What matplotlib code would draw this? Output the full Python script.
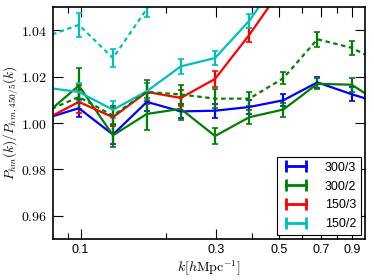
import matplotlib
matplotlib.use('Agg')
import matplotlib.pyplot as plt
from matplotlib.lines import Line2D
from matplotlib.ticker import FixedLocator, NullFormatter, FuncFormatter

plt.rcParams['mathtext.fontset'] = 'cm'
plt.rcParams['font.family'] = 'Liberation Sans'

# k bins
k = [0.0748, 0.0986, 0.130, 0.171, 0.225, 0.297, 0.392, 0.516, 0.680, 0.898, 1.183]

# ratios
r_300_3 = [1.0018, 1.0064, 0.9950, 1.0091, 1.0050, 1.0053, 1.0069, 1.0098, 1.0175, 1.0124, 1.0079]
e_300_3 = [0.004, 0.004, 0.004, 0.004, 0.003, 0.003, 0.003, 0.0025, 0.0025, 0.003, 0.003]
r_300_2 = [1.0035, 1.0161, 0.9947, 1.0039, 1.0061, 0.9944, 1.0025, 1.0058, 1.0169, 1.0165, 1.0070]
e_300_2 = [0.007, 0.0075, 0.005, 0.007, 0.005, 0.0036, 0.003, 0.003, 0.0023, 0.003, 0.003]
r_300_2b = [1.0048, 1.0112, 1.0032, 1.0134, 1.0123, 1.0105, 1.0105, 1.0193, 1.0361, 1.0324, 1.0250]
e_300_2b = [0.005, 0.005, 0.004, 0.005, 0.004, 0.004, 0.003, 0.0025, 0.0033, 0.003, 0.003]
r_150_3 = [1.0014, 1.0091, 1.0025, 1.0134, 1.0108, 1.0190, 1.0380, 1.0590, 1.080, 1.100, 1.120]
e_150_3 = [0.005, 0.005, 0.004, 0.004, 0.0034, 0.0034, 0.003, 0.003, 0.003, 0.003, 0.003]
r_150_2 = [1.0153, 1.0134, 1.0057, 1.0137, 1.0244, 1.0280, 1.0441, 1.0650, 1.085, 1.100, 1.120]
e_150_2 = [0.004, 0.004, 0.0036, 0.0035, 0.0033, 0.003, 0.003, 0.003, 0.003, 0.003, 0.003]
r_150_2b = [1.0370, 1.0423, 1.0280, 1.0492, 1.0700, 1.090, 1.110, 1.130, 1.150, 1.170, 1.190]
e_150_2b = [0.0055, 0.0053, 0.0038, 0.0036, 0.0035, 0.003, 0.003, 0.003, 0.003, 0.003, 0.003]

labels = ['300/3', '300/2', '150/3', '150/2']
colors = ['b', 'g', 'r', 'c']

fig = plt.figure(figsize=(3.74, 2.8), dpi=100)
ax = fig.add_axes([0.1417, 0.1464, 0.976 - 0.1417, 0.975 - 0.1464])

kw = dict(lw=1.6, elinewidth=1.6, capsize=2.5, capthick=1.2)
ax.errorbar(k, r_300_3, yerr=e_300_3, color='b', **kw)
ax.errorbar(k, r_300_2, yerr=e_300_2, color='g', **kw)
ax.errorbar(k, r_150_3, yerr=e_150_3, color='r', **kw)
ax.errorbar(k, r_150_2, yerr=e_150_2, color='c', **kw)
l1 = ax.errorbar(k, r_300_2b, yerr=e_300_2b, color='g', ls='--', **kw)
l2 = ax.errorbar(k, r_150_2b, yerr=e_150_2b, color='c', ls='--', **kw)
for l in (l1, l2):
    l[0].set_dashes((2.0, 1.6))

ax.set_xscale('log')
ax.set_xlim(0.08, 1.0)
ax.set_ylim(0.95, 1.05)

ax.xaxis.set_major_locator(FixedLocator([0.1, 0.3, 0.5, 0.7, 0.9]))
ax.xaxis.set_minor_locator(FixedLocator([0.09, 0.2, 0.4, 0.6, 0.8]))
ax.xaxis.set_major_formatter(FuncFormatter(lambda v, p: '%g' % v))
ax.xaxis.set_minor_formatter(NullFormatter())
ax.yaxis.set_major_locator(FixedLocator([0.96, 0.98, 1.00, 1.02, 1.04]))
ax.yaxis.set_major_formatter(FuncFormatter(lambda v, p: '$%.2f$' % v))

ax.tick_params(which='both', direction='in', top=True, right=True, labelsize=9)
ax.tick_params(which='major', length=7, width=0.8)
ax.tick_params(which='minor', length=4, width=0.8)
ax.tick_params(axis='y', labelsize=10, pad=4)
for s in ax.spines.values():
    s.set_linewidth(1.2)

ax.set_xlabel(r'$k[h\mathrm{Mpc}^{-1}]$', fontsize=10, labelpad=2)
ax.set_ylabel(r'$P_{hm}(k)/P_{hm,450/5}(k)$', fontsize=9.5, labelpad=0)

handles = [Line2D([], [], color=c, lw=2, marker='|', markersize=9, mew=2) for c in colors]
leg = ax.legend(handles, labels, loc='lower right', numpoints=2, fontsize=9,
                fancybox=False, framealpha=1, edgecolor='k', handlelength=2.2,
                borderaxespad=0.3, labelspacing=0.55, handletextpad=1.2)
leg.get_frame().set_linewidth(0.8)

plt.savefig('out.png', dpi=100)
